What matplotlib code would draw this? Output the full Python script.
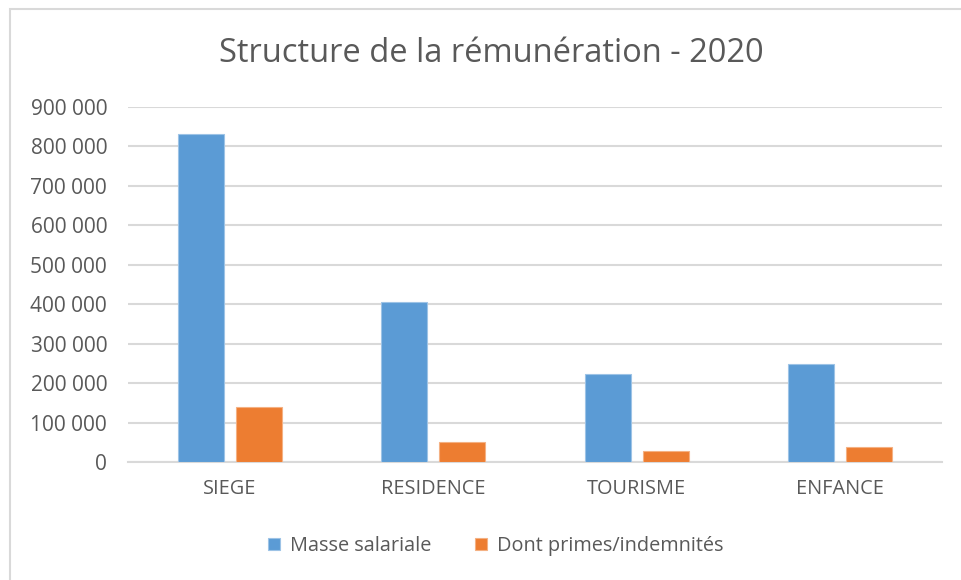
import numpy as np
import matplotlib
matplotlib.use("Agg")
import matplotlib.pyplot as plt
from matplotlib.patches import Rectangle
from matplotlib.ticker import FuncFormatter

categories = ["SIEGE", "RESIDENCE", "TOURISME", "ENFANCE"]
masse_salariale = [831000, 406000, 222000, 248000]
primes = [139000, 50000, 28000, 37000]
series_names = ["Masse salariale", "Dont primes/indemnités"]

blue = "#5b9bd5"
orange = "#ed7d31"
text_grey = "#595959"
grid_grey = "#d9d9d9"

plt.rcParams["font.family"] = ["Open Sans", "DejaVu Sans"]

fig = plt.figure(figsize=(9.61, 5.80), dpi=100)
ax = fig.add_axes([128 / 961, 118 / 580, 814 / 961, 355 / 580])

x = np.arange(len(categories))
w = 0.226
off = 0.142
ax.bar(x - off, masse_salariale, w, color=blue, edgecolor="#9dc3e6", linewidth=0.8,
       label=series_names[0], zorder=3)
ax.bar(x + off, primes, w, color=orange, edgecolor="#f4b183", linewidth=0.8,
       label=series_names[1], zorder=3)

ax.set_xlim(-0.5, len(categories) - 0.5)
ax.set_ylim(0, 900000)
ax.set_yticks(np.arange(0, 900001, 100000))
ax.yaxis.set_major_formatter(FuncFormatter(lambda v, p: f"{int(v):,}".replace(",", " ")))
ax.set_xticks(x)
ax.set_xticklabels(categories)

ax.grid(axis="y", color=grid_grey, linewidth=1.5, zorder=0)
for s in ["top", "right", "left"]:
    ax.spines[s].set_visible(False)
ax.spines["bottom"].set_color(grid_grey)
ax.spines["bottom"].set_linewidth(1.5)
ax.tick_params(axis="y", length=0, labelsize=15, colors=text_grey, pad=15)
ax.tick_params(axis="x", length=0, labelsize=14.3, colors=text_grey, pad=12)

fig.text(491 / 961, 1 - 54 / 580, "Structure de la rémunération - 2020", ha="center", va="center",
         fontsize=23.5, color=text_grey)

fig.legend(loc="center", bbox_to_anchor=(496 / 961, 1 - 546 / 580), ncol=2, frameon=False,
           fontsize=14.3, labelcolor=text_grey, handlelength=0.6, handleheight=0.6,
           columnspacing=2.2, handletextpad=0.5)

fig.patches.append(Rectangle((10 / 961, -0.05), 1.0, 1.05 - 9 / 580, transform=fig.transFigure,
                             fill=False, edgecolor="#d9d9d9", linewidth=1.5))

fig.savefig("out.png", dpi=100)
